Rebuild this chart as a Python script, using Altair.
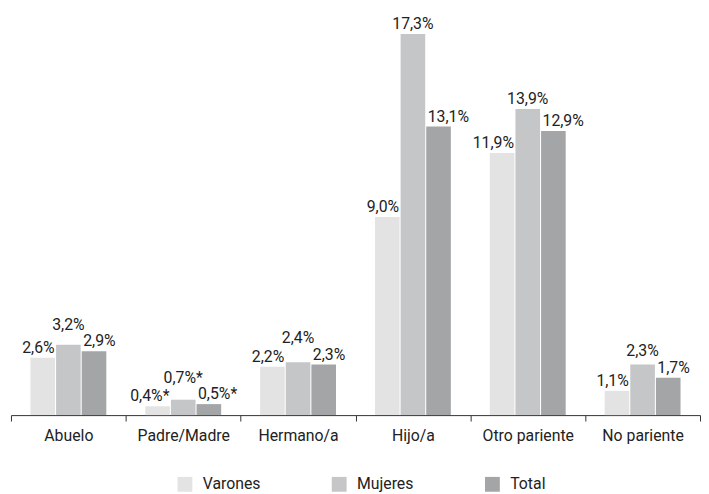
import altair as alt
import pandas as pd

categories = ["Abuelo", "Padre/Madre", "Hermano/a", "Hijo/a", "Otro pariente", "No pariente"]
series = ["Varones", "Mujeres", "Total"]
varones = [2.6, 0.4, 2.2, 9.0, 11.9, 1.1]
mujeres = [3.2, 0.7, 2.4, 17.3, 13.9, 2.3]
total = [2.9, 0.5, 2.3, 13.1, 12.9, 1.7]
asterisk = [False, True, False, False, False, False]
colors = ["#e2e3e2", "#c5c6c8", "#a4a5a6"]

rows = []
for s, vals in zip(series, [varones, mujeres, total]):
    for c, v, a in zip(categories, vals, asterisk):
        lab = f"{v:.1f}".replace(".", ",") + "%" + ("*" if a else "")
        rows.append({"cat": c, "serie": s, "valor": v, "label": lab})
df = pd.DataFrame(rows)

FONT = "Roboto"

xenc = alt.X("cat:N", sort=categories, title=None,
             scale=alt.Scale(paddingInner=0, paddingOuter=0),
             axis=alt.Axis(tickBand="extent", labelAngle=0, tickSize=6,
                           labelPadding=7, labelFontSize=16, labelFont=FONT,
                           labelColor="#222222", domainColor="#333333",
                           tickColor="#333333", labelLimit=200))
xoff = alt.XOffset("serie:N", sort=series,
                   scale=alt.Scale(paddingInner=0.04, paddingOuter=0.76))
yscale = alt.Scale(domain=[0, 18], nice=False)

bars = alt.Chart(df).mark_bar().encode(
    x=xenc, xOffset=xoff,
    y=alt.Y("valor:Q", scale=yscale, axis=None),
    color=alt.Color("serie:N", sort=series,
                    scale=alt.Scale(domain=series, range=colors),
                    legend=alt.Legend(title=None, orient="none", legendX=168, legendY=463,
                                      direction="horizontal", columns=3,
                                      columnPadding=71, symbolType="square",
                                      symbolSize=225, symbolStrokeWidth=0,
                                      labelFontSize=16, labelFont=FONT,
                                      labelColor="#222222", labelOffset=10))
)

# label height: the Mujeres label is lifted above its neighbours' labels
lab_base = alt.Chart(df).transform_calculate(
    other="datum.serie == 'Mujeres' ? 0 : datum.valor"
).transform_joinaggregate(
    maxother="max(other)", groupby=["cat"]
).transform_calculate(
    ylab="datum.serie == 'Mujeres' ? max(datum.valor, datum.maxother + 0.75) : datum.valor"
).encode(
    x=xenc, xOffset=xoff,
    y=alt.Y("ylab:Q", scale=yscale, axis=None),
    text="label:N",
)

def lbl(s, align, dx):
    return lab_base.transform_filter(alt.datum.serie == s).mark_text(
        align=align, baseline="alphabetic", dx=dx, dy=-5,
        fontSize=16, font=FONT, color="#222222"
    )

chart = alt.layer(
    bars,
    lbl("Varones", "right", 12),
    lbl("Mujeres", "center", 0),
    lbl("Total", "left", -11),
).properties(
    width=697, height=401,
    padding={"left": 2, "top": 5, "right": 0, "bottom": 0},
).configure_view(stroke=None)

chart.save("out.html", embed_options={"renderer": "svg", "actions": False})
